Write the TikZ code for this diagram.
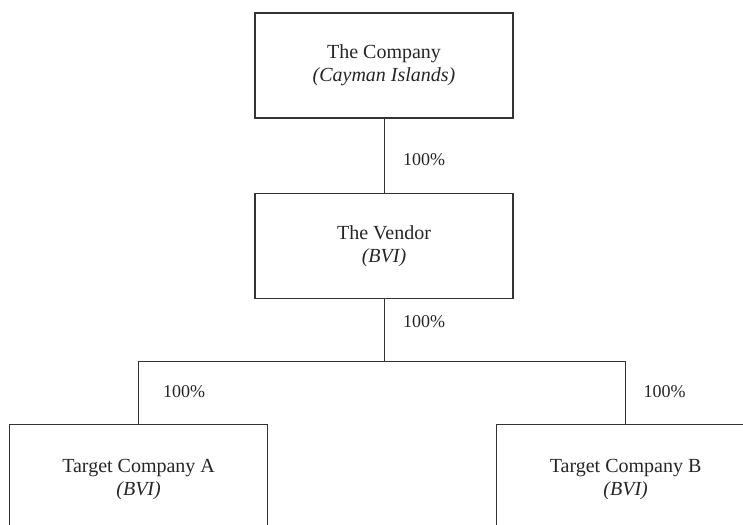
\documentclass[tikz,border=0pt]{standalone}
\usepackage{fontspec}
\setmainfont{Liberation Serif}
\definecolor{linec}{HTML}{333333}
\definecolor{txtc}{HTML}{262626}
\begin{document}
\begin{tikzpicture}[x=1pt,y=-1pt,
  box/.style={draw=linec, line width=1.4pt, minimum width=258pt, minimum height=105pt,
    align=center, inner sep=0pt, text=txtc, font=\fontsize{20}{23}\selectfont},
  lowbox/.style={box, minimum height=110pt, anchor=north},
  pct/.style={font=\fontsize{18}{20}\selectfont, text=txtc, inner sep=0pt},
  link/.style={draw=linec, line width=0.9pt}]
\useasboundingbox (0,0) rectangle (743,524);
\clip (0,0) rectangle (743,524);
\node[box] (co) at (384,65.5) {The Company\\\textit{(Cayman Islands)}};
\node[box] (ve) at (384,246) {The Vendor\\\textit{(BVI)}};
\node[lowbox] (ta) at (138.6,424) {Target Company A\\\textit{(BVI)}};
\node[lowbox] (tb) at (625.6,424) {Target Company B\\\textit{(BVI)}};
\coordinate (j) at (384,361.7);
\draw[link] (co.south) -- (ve.north);
\draw[link] (ve.south) -- (j);
\draw[link] (ta.north) -- (ta.north |- j) -- (tb.north |- j) -- (tb.north);
\node[pct] (p1) at (424,160) {100\%};
\node[pct] (p2) at (424,322) {100\%};
\node[pct] (p3) at (184,392) {100\%};
\node[pct] (p4) at (664.5,392) {100\%};
\end{tikzpicture}
\end{document}
